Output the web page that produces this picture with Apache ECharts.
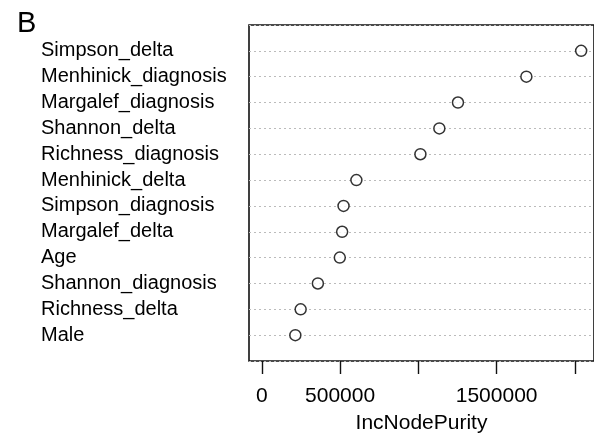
<!DOCTYPE html>
<html>
<head>
<meta charset="utf-8">
<script src="https://cdn.jsdelivr.net/npm/echarts@6/dist/echarts.min.js"></script>
<style>
  html, body { margin: 0; padding: 0; background: #fff; }
  #chart { width: 594px; height: 439px; }
</style>
</head>
<body>
<div id="chart"></div>
<script>
// variables, top to bottom as in the plot
var variables = ['Simpson_delta', 'Menhinick_diagnosis', 'Margalef_diagnosis', 'Shannon_delta',
  'Richness_diagnosis', 'Menhinick_delta', 'Simpson_diagnosis', 'Margalef_delta', 'Age',
  'Shannon_diagnosis', 'Richness_delta', 'Male'];
var purity = [2040000, 1690000, 1253000, 1134000, 1013000, 604000, 522000, 513000, 498000,
  358000, 248000, 214000];
var tickValues = [0, 500000, 1000000, 1500000, 2000000];
var tickLabels = [0, 500000, 1500000];

var chart = echarts.init(document.getElementById('chart'));
var n = variables.length;
var font = 'Liberation Sans, Arial, Helvetica, sans-serif';

// row position: first variable at top
var points = purity.map(function (v, i) { return [v, n - i]; });

var option = {
  animation: false,
  textStyle: { fontFamily: font },
  title: {
    text: 'B', left: 12, top: 4,
    textStyle: { fontSize: 29, fontWeight: 'normal', color: '#000', fontFamily: font }
  },
  grid: {
    left: 249, right: -1, top: 25, bottom: 77,
    show: true, borderColor: '#111', borderWidth: 1.6, backgroundColor: 'transparent'
  },
  xAxis: {
    type: 'value',
    min: -82000, max: 2122000,
    name: 'IncNodePurity', nameLocation: 'middle', nameGap: 52,
    nameTextStyle: { fontSize: 21, color: '#000', fontFamily: font },
    axisLine: { show: false },
    axisTick: { show: true, customValues: tickValues, length: 13, lineStyle: { color: '#111', width: 1.4 } },
    axisLabel: {
      customValues: tickLabels, fontSize: 21, color: '#000', margin: 25, fontFamily: font,
      formatter: function (v) { return String(v); }
    },
    splitLine: { show: false }
  },
  yAxis: {
    type: 'value',
    min: 0, max: n + 1, interval: 1,
    axisLine: { show: false },
    axisTick: { show: false },
    axisLabel: {
      margin: 208, align: 'left', fontSize: 20, color: '#000', fontFamily: font,
      padding: [3, 0, 0, 0],
      formatter: function (v) {
        var i = n - v;
        return (i >= 0 && i < n) ? variables[i] : '';
      }
    },
    splitLine: { show: true, lineStyle: { color: '#bbb', type: [2, 3], width: 1 } }
  },
  series: [{
    type: 'scatter',
    data: points,
    symbol: 'circle',
    symbolSize: 11,
    itemStyle: { color: '#fff', borderColor: '#000', borderWidth: 1.5 }
  }]
};
chart.setOption(option);
</script>
</body>
</html>
